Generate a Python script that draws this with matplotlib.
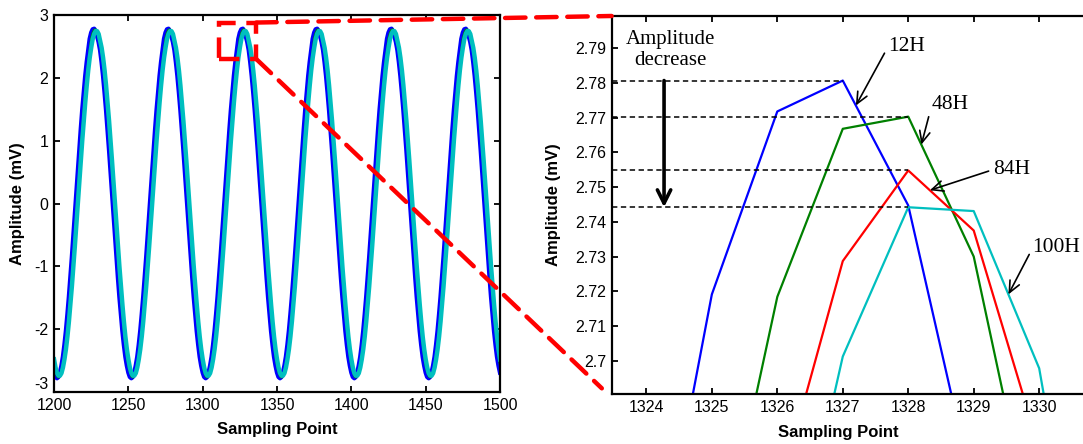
import numpy as np
import matplotlib
matplotlib.use("Agg")
import matplotlib.pyplot as plt
from matplotlib.patches import Rectangle, ConnectionPatch
from matplotlib.ticker import FormatStrFormatter

plt.rcParams['font.family'] = ['Liberation Sans', 'DejaVu Sans']
plt.rcParams['axes.unicode_minus'] = False

# one period (samples 1300..1349) of each recorded waveform, mV
amp_12h = [-2.69, -2.76, -2.78, -2.76, -2.69, -2.58, -2.44, -2.25, -2.03, -1.77,
           -1.49, -1.18, -0.86, -0.52, -0.17, 0.17, 0.52, 0.86, 1.18, 1.49,
           1.77, 2.03, 2.25, 2.44, 2.62, 2.7191, 2.7718, 2.7807, 2.7447, 2.662,
           2.57, 2.44, 2.25, 2.03, 1.77, 1.49, 1.18, 0.86, 0.52, 0.17,
           -0.17, -0.52, -0.86, -1.18, -1.49, -1.77, -2.03, -2.25, -2.44, -2.58]
amp_48h = [-2.58, -2.68, -2.75, -2.77, -2.75, -2.68, -2.58, -2.43, -2.24, -2.02,
           -1.77, -1.48, -1.18, -0.86, -0.52, -0.17, 0.17, 0.52, 0.86, 1.18,
           1.48, 1.77, 2.02, 2.24, 2.43, 2.631, 2.7184, 2.7668, 2.7703, 2.730,
           2.642, 2.54, 2.43, 2.24, 2.02, 1.77, 1.48, 1.18, 0.86, 0.52,
           0.17, -0.17, -0.52, -0.86, -1.18, -1.48, -1.77, -2.02, -2.24, -2.43]
amp_84h = [-2.56, -2.67, -2.73, -2.76, -2.73, -2.67, -2.56, -2.41, -2.23, -2.01,
           -1.76, -1.48, -1.17, -0.85, -0.52, -0.17, 0.17, 0.52, 0.85, 1.17,
           1.48, 1.76, 2.01, 2.23, 2.41, 2.56, 2.6603, 2.7287, 2.7548, 2.7375,
           2.6747, 2.57, 2.43, 2.24, 2.02, 1.77, 1.49, 1.18, 0.86, 0.52,
           0.17, -0.17, -0.52, -0.85, -1.17, -1.48, -1.76, -2.01, -2.23, -2.41]
amp_100h = [-2.48, -2.61, -2.70, -2.74, -2.74, -2.70, -2.61, -2.48, -2.32, -2.12,
            -1.88, -1.61, -1.32, -1.01, -0.68, -0.34, 0.00, 0.34, 0.68, 1.01,
            1.32, 1.61, 1.88, 2.12, 2.32, 2.48, 2.618, 2.7012, 2.7442, 2.7431,
            2.6978, 2.59, 2.48, 2.32, 2.12, 1.88, 1.61, 1.32, 1.01, 0.68,
            0.34, 0.00, -0.34, -0.68, -1.01, -1.32, -1.61, -1.88, -2.12, -2.32]

series_names = ['12H', '48H', '84H', '100H']
series_colors = ['#0000ff', '#008000', '#ff0000', '#00bfbf']
periods = [amp_12h, amp_48h, amp_84h, amp_100h]

start, stop = 1200, 1500
x = np.arange(start, stop + 1)
signals = [np.tile(p, 7)[:len(x)] for p in periods]

fig = plt.figure(figsize=(10.83, 4.44), dpi=100)
ax1 = fig.add_axes([0.0499, 0.1171, 0.4118, 0.8491])
ax2 = fig.add_axes([0.5648, 0.1126, 0.4552, 0.8514])

# full record
for sig, col, lw in zip(signals, series_colors, [3.2, 1.5, 1.0, 3.2]):
    ax1.plot(x, sig, color=col, lw=lw)
ax1.set_xlim(1200, 1500)
ax1.set_ylim(-3, 3)
ax1.set_xticks(np.arange(1200, 1501, 50))
ax1.set_yticks(np.arange(-3, 4, 1))

# zoom on the third peak
for sig, col in zip(signals, series_colors):
    ax2.plot(x, sig, color=col, lw=1.6)
ax2.set_xlim(1323.47, 1331.0)
ax2.set_ylim(2.6904, 2.7993)
ax2.set_xticks(np.arange(1324, 1331))
ax2.set_yticks(np.round(np.arange(2.70, 2.795, 0.01), 2))
ax2.yaxis.set_major_formatter(FormatStrFormatter('%g'))

for ax in (ax1, ax2):
    ax.tick_params(direction='in', length=4, width=1.3, top=True, right=True,
                   labelsize=11.5, pad=4)
    for sp in ax.spines.values():
        sp.set_linewidth(1.6)
    ax.set_xlabel('Sampling Point', fontsize=12, fontweight='bold')
    ax.set_ylabel('Amplitude (mV)', fontsize=12, fontweight='bold')

# lowest y label sits just above the x labels
ax1.get_yticklabels()[0].set_va('bottom')

ax1.xaxis.set_label_coords(0.5, -0.08)
ax1.yaxis.set_label_coords(-0.065, 0.5)
ax2.xaxis.set_label_coords(0.459, -0.082)
ax2.yaxis.set_label_coords(-0.103, 0.5)

# peak levels of each curve inside the zoom window
win = (x >= 1324) & (x <= 1330)
peaks = []
for sig in signals:
    i = np.argmax(np.where(win, sig, -np.inf))
    peaks.append((x[i], sig[i]))
    ax2.plot([1323.47, x[i]], [sig[i], sig[i]], color='black', lw=1.1,
             ls=(0, (3.5, 2.3)))

ax2.annotate('', xy=(1324.27, peaks[-1][1]), xytext=(1324.27, peaks[0][1]),
             arrowprops=dict(arrowstyle='->,head_length=0.6,head_width=0.3',
                             lw=2.6, color='black', shrinkA=0, shrinkB=0,
                             mutation_scale=16))
ax2.text(1324.37, 2.7895, 'Amplitude\ndecrease', family='Liberation Serif',
         fontsize=15, ha='center', va='center')

label_text_xy = [(1327.69, 2.7904), (1328.36, 2.7737), (1329.29, 2.7550), (1329.90, 2.7325)]
label_arrow_x = [1327.2, 1328.2, 1328.33, 1329.53]
for name, sig, (tx, ty), ax_ in zip(series_names, signals, label_text_xy, label_arrow_x):
    ty_line = np.interp(ax_, x, sig)
    ax2.annotate(name, xy=(ax_, ty_line), xytext=(tx, ty),
                 family='Liberation Serif', fontsize=15.5, ha='left', va='center',
                 arrowprops=dict(arrowstyle='->,head_length=0.55,head_width=0.25',
                                 lw=1.2, color='black', shrinkA=1, shrinkB=0,
                                 mutation_scale=15, relpos=(0, 0.5)))

# zoom box and connectors
box_x = (1311, 1336)
box_y = (2.30, 2.88)
red_dash = dict(color='#ff0000', lw=3.2, ls=(0, (4.6, 2.4)))
ax1.add_patch(Rectangle((box_x[0], box_y[0]), box_x[1] - box_x[0], box_y[1] - box_y[0],
                        fill=False, ec=red_dash['color'], lw=red_dash['lw'],
                        ls=red_dash['ls'], clip_on=False, zorder=5))
for (bx, by), (fx, fy) in [((box_x[1], box_y[1]), (0, 1)), ((box_x[1], box_y[0]), (-0.02, 0.015))]:
    con = ConnectionPatch(xyA=(bx, by), coordsA=ax1.transData,
                          xyB=(fx, fy), coordsB=ax2.transAxes, **red_dash)
    con.set_zorder(6)
    fig.add_artist(con)

fig.savefig('out.png', dpi=100)
